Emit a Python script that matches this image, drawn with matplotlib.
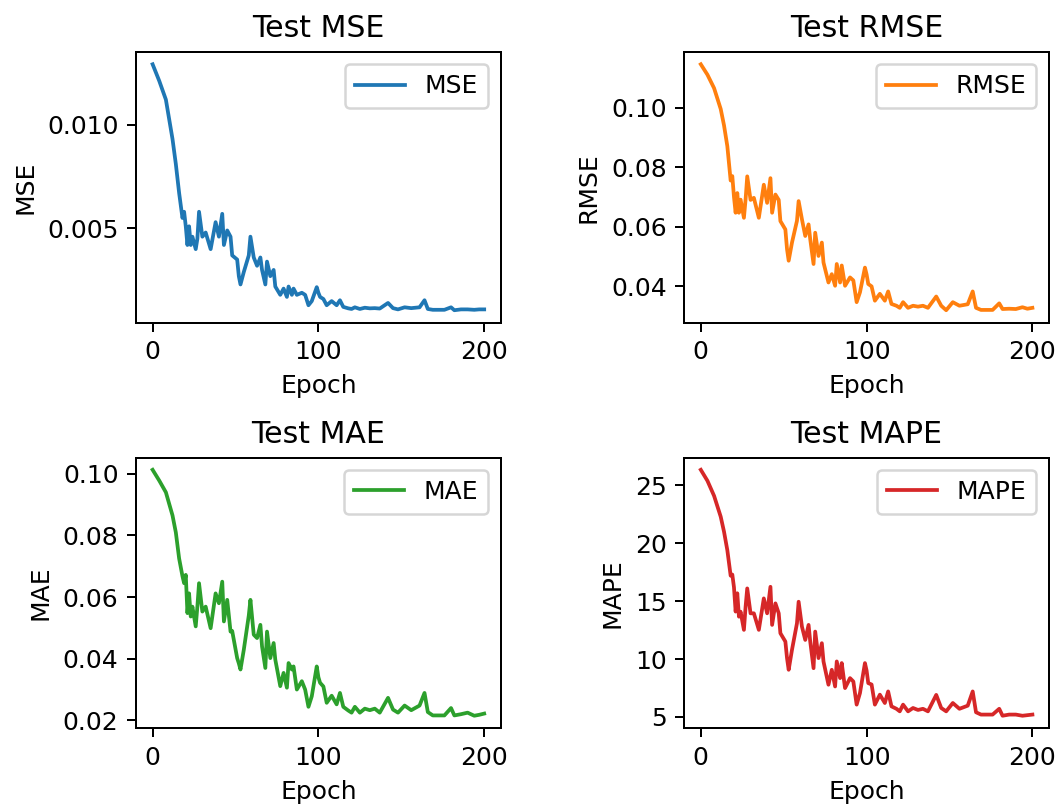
import matplotlib
matplotlib.use("Agg")
import matplotlib.pyplot as plt
from matplotlib.ticker import MultipleLocator

epochs = [0, 4, 8, 12, 14, 16, 18, 19, 20, 21,
          22, 23, 24, 26, 27, 28, 30, 32, 35, 38,
          40, 42, 43, 45, 47, 48, 51, 52, 53, 55,
          58, 59, 61, 63, 65, 66, 68, 69, 71, 73,
          74, 77, 79, 81, 82, 84, 85, 87, 90, 92,
          94, 96, 99, 100, 101, 103, 105, 108, 111, 113,
          115, 118, 120, 122, 125, 128, 131, 134, 137, 142,
          145, 148, 152, 156, 161, 164, 166, 169, 172, 176,
          180, 182, 186, 190, 194, 197, 200]

mse = [0.0129, 0.0121, 0.0112, 0.0093, 0.0081, 0.0067, 0.0055, 0.0058, 0.0051, 0.0042,
       0.0051, 0.0042, 0.0046, 0.0040, 0.0045, 0.0058, 0.0046, 0.0048, 0.0040, 0.0053,
       0.0046, 0.0057, 0.0042, 0.0049, 0.0046, 0.0037, 0.0035, 0.0027, 0.0023, 0.0029,
       0.0037, 0.0046, 0.0036, 0.0032, 0.0036, 0.0030, 0.0023, 0.0034, 0.0027, 0.0030,
       0.0022, 0.0018, 0.0021, 0.0017, 0.0022, 0.0018, 0.0021, 0.0018, 0.0019, 0.0018,
       0.0013, 0.0015, 0.00217, 0.0019, 0.0017, 0.0016, 0.0013, 0.0015, 0.0013, 0.00154,
       0.00122, 0.00115, 0.00112, 0.0012, 0.00112, 0.00118, 0.00115, 0.00116, 0.00114, 0.00141,
       0.00116, 0.0011, 0.0012, 0.00116, 0.0012, 0.00154, 0.00112, 0.00108, 0.00108, 0.00108,
       0.0012, 0.00106, 0.0011, 0.0011, 0.00108, 0.0011, 0.0011]

rmse = [0.1145, 0.111, 0.1065, 0.0995, 0.094, 0.087, 0.0755, 0.077, 0.070, 0.0647,
        0.0713, 0.0647, 0.0691, 0.063, 0.0691, 0.0769, 0.069, 0.0697, 0.063, 0.0741,
        0.068, 0.0763, 0.0647, 0.0708, 0.069, 0.0619, 0.0591, 0.0525, 0.0486, 0.0547,
        0.062, 0.0686, 0.0625, 0.0569, 0.0608, 0.0558, 0.0475, 0.058, 0.0502, 0.0547,
        0.048, 0.0413, 0.0441, 0.0402, 0.0475, 0.0413, 0.047, 0.0402, 0.043, 0.042,
        0.0347, 0.038, 0.0463, 0.044, 0.0408, 0.040, 0.0352, 0.0375, 0.0352, 0.0383,
        0.0341, 0.0335, 0.0328, 0.0347, 0.0328, 0.0335, 0.0332, 0.0335, 0.0328, 0.0366,
        0.0335, 0.032, 0.0347, 0.0335, 0.034, 0.0383, 0.0328, 0.0321, 0.0321, 0.0321,
        0.0343, 0.0324, 0.0325, 0.0324, 0.033, 0.0325, 0.0328]

mae = [0.1013, 0.0978, 0.094, 0.0865, 0.081, 0.0725, 0.0668, 0.0645, 0.0672, 0.0548,
       0.0612, 0.0537, 0.0569, 0.0505, 0.0569, 0.0645, 0.0553, 0.0569, 0.0499, 0.0612,
       0.058, 0.065, 0.0521, 0.0591, 0.0488, 0.049, 0.0402, 0.0385, 0.0365, 0.0429,
       0.054, 0.0591, 0.0478, 0.0467, 0.051, 0.044, 0.037, 0.0488, 0.0402, 0.0451,
       0.0397, 0.0311, 0.0354, 0.0306, 0.0386, 0.0365, 0.0375, 0.030, 0.0327, 0.030,
       0.0244, 0.0278, 0.0375, 0.034, 0.0322, 0.031, 0.0257, 0.028, 0.0252, 0.0289,
       0.0244, 0.0232, 0.0225, 0.0244, 0.0225, 0.0238, 0.0233, 0.0238, 0.0225, 0.0273,
       0.0235, 0.0225, 0.0248, 0.0233, 0.0248, 0.0289, 0.0227, 0.0216, 0.0216, 0.0216,
       0.024, 0.0216, 0.022, 0.0225, 0.0215, 0.0218, 0.0222]

mape = [26.35, 25.4, 24.1, 22.3, 21.0, 19.4, 17.2, 17.3, 16.2, 14.1,
        15.68, 13.66, 14.09, 12.52, 14.5, 16.1, 13.95, 13.95, 12.52, 15.24,
        13.95, 16.24, 12.95, 14.81, 13.95, 12.23, 11.51, 10.08, 9.07, 10.8,
        13.09, 14.95, 12.8, 11.65, 12.95, 11.51, 9.21, 12.37, 10.08, 11.37,
        9.79, 7.78, 9.07, 7.63, 9.79, 8.35, 9.65, 7.49, 8.35, 8.06,
        6.06, 7.06, 9.65, 9.0, 7.92, 7.8, 6.06, 6.92, 6.2, 7.2,
        5.91, 5.7, 5.48, 6.06, 5.48, 5.77, 5.6, 5.7, 5.48, 6.9,
        5.77, 5.48, 6.2, 5.7, 5.97, 7.2, 5.4, 5.2, 5.2, 5.2,
        5.7, 5.1, 5.2, 5.2, 5.1, 5.15, 5.2]

metric_names = ["MSE", "RMSE", "MAE", "MAPE"]
metric_values = [mse, rmse, mae, mape]
colors = ["#1f77b4", "#ff7f0e", "#2ca02c", "#d62728"]

W, H, DPI = 1057, 811, 180
fig, axes = plt.subplots(2, 2, figsize=(W / DPI, H / DPI), dpi=DPI)
fig.subplots_adjust(left=0.1287, right=0.9924, top=0.9359, bottom=0.1023,
                    wspace=0.503, hspace=0.499)

for ax, name, vals, c in zip(axes.flat, metric_names, metric_values, colors):
    ax.plot(epochs, vals, color=c, label=name)
    ax.set_title(f"Test {name}")
    ax.set_xlabel("Epoch")
    ax.set_ylabel(name)
    ax.xaxis.set_major_locator(MultipleLocator(100))
    ax.legend(loc="upper right")

fig.savefig("out.png", dpi=DPI)
